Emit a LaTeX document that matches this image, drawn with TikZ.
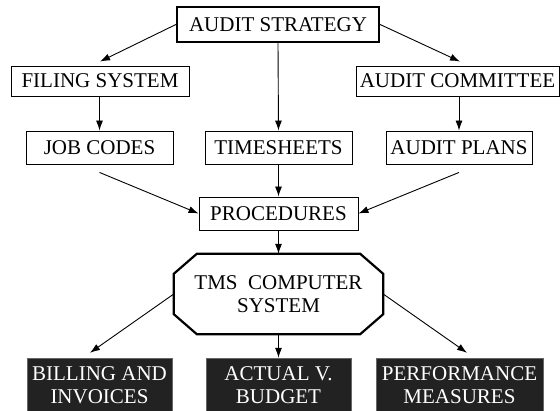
\documentclass[tikz,border=0pt]{standalone}
\usepackage{fontspec}
\setmainfont{Liberation Serif}
\usepackage{tikz}
\usepackage{xcolor}
\usetikzlibrary{calc, arrows.meta}
\definecolor{boxdark}{HTML}{222222}

\begin{document}
\begin{tikzpicture}[x=1pt, y=-1pt,
  box/.style={draw, line width=0.9pt, inner sep=0pt, minimum height=33pt,
    font=\fontsize{21}{23}\selectfont},
  darkbox/.style={draw=black!60, fill=boxdark, text=white, align=center,
    inner sep=0pt, minimum height=54pt, font=\fontsize{21}{23}\selectfont},
  link/.style={-{Latex[length=10pt,width=7pt]}, line width=0.9pt}]
  \useasboundingbox (0,0) rectangle (560,411);
  % Top of the tree
  \node[box, line width=2.2pt, minimum width=202pt, minimum height=35pt] (strategy) at (278,24.5) {AUDIT STRATEGY};
  \node[box, minimum width=178pt, minimum height=30pt] (filing) at (100,81) {FILING SYSTEM};
  \node[box, minimum width=203pt, minimum height=30pt] (committee) at (457.5,81) {AUDIT COMMITTEE};
  % Middle row
  \node[box, minimum width=147pt] (jobs) at (99.5,147.5) {JOB CODES};
  \node[box, minimum width=147pt] (timesheets) at (278.5,147.5) {TIMESHEETS};
  \node[box, minimum width=146pt] (plans) at (459,147.5) {AUDIT PLANS};
  \node[box, minimum width=159pt] (procedures) at (278.5,213.5) {PROCEDURES};
  % Computer system (octagon)
  \node[inner sep=0pt, minimum width=209pt, minimum height=80pt, align=center,
    font=\fontsize{21}{23}\selectfont] (tms) at (278.5,294) {TMS~~COMPUTER\\SYSTEM};
  \draw[line width=2.2pt] ([xshift=23pt]tms.north west) -- ([xshift=-23pt]tms.north east)
    -- ([yshift=-20pt]tms.north east) -- ([yshift=20pt]tms.south east)
    -- ([xshift=-23pt]tms.south east) -- ([xshift=23pt]tms.south west)
    -- ([yshift=20pt]tms.south west) -- ([yshift=-20pt]tms.north west) -- cycle;
  % Outputs
  \node[darkbox, minimum width=145pt] (billing) at (99.5,385) {BILLING AND\\INVOICES};
  \node[darkbox, minimum width=145pt] (actual) at (278.5,385) {ACTUAL V.\\BUDGET};
  \node[darkbox, minimum width=167pt] (performance) at (459.5,385) {PERFORMANCE\\MEASURES};
  % Connectors
  \draw[link] (strategy.west) -- ([yshift=4pt]filing.north);
  \draw[link] (strategy.east) -- ([xshift=2.5pt,yshift=4pt]committee.north);
  \draw[link] (strategy.south) -- (timesheets.north);
  \draw[link] (jobs.north |- filing.south) -- (jobs.north);
  \draw[link] (plans.north |- committee.south) -- (plans.north);
  \draw[link] ([yshift=-8pt]jobs.south) -- (procedures.west);
  \draw[link] ([yshift=-8pt]plans.south) -- (procedures.east);
  \draw[link] (timesheets.south) -- (procedures.north);
  \draw[link] (procedures.south) -- (tms.north);
  \draw[link] (tms.west) -- ([xshift=-9.5pt,yshift=5pt]billing.north);
  \draw[link] (tms.south) -- (actual.north);
  \draw[link] (tms.east) -- ([xshift=7.5pt,yshift=5pt]performance.north);
\end{tikzpicture}
\end{document}
